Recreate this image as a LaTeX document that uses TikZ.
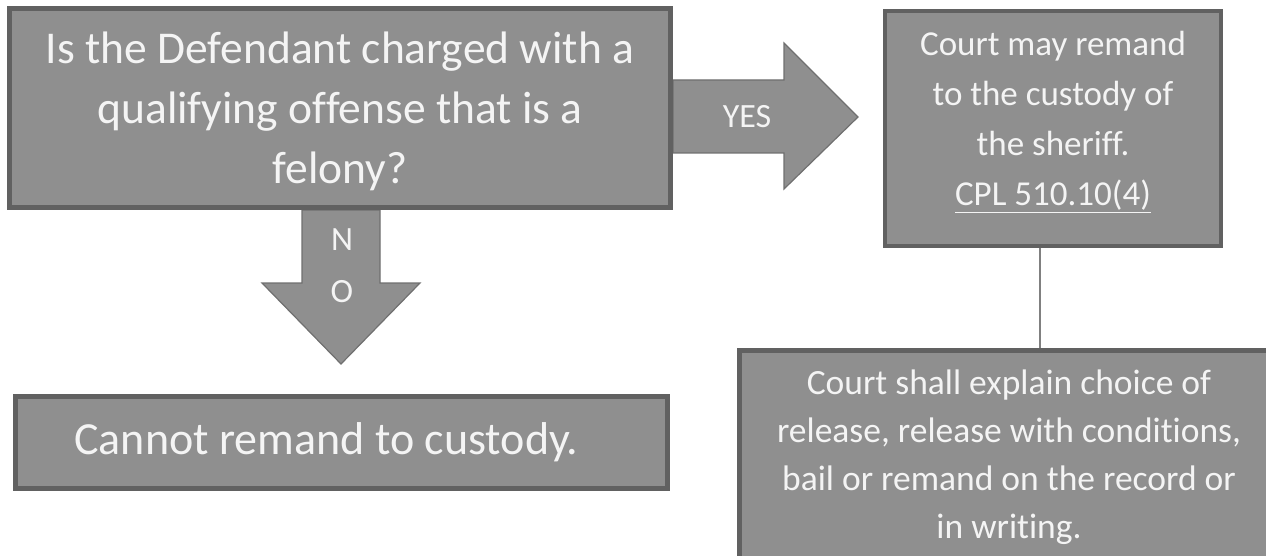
\documentclass[tikz,border=0pt]{standalone}
\usepackage{fontspec}
\setmainfont{Carlito}[Ligatures={NoCommon}]
\usetikzlibrary{calc,positioning}
\definecolor{boxfill}{HTML}{8F8F8F}
\definecolor{boxline}{HTML}{616161}
\definecolor{arrline}{HTML}{707070}
\definecolor{txt}{HTML}{F4F4F4}

\begin{document}
\begin{tikzpicture}[
  x=1pt, y=-1pt,
  box/.style={rectangle, draw=boxline, line width=5pt, fill=boxfill,
              text=txt, align=center, inner sep=0pt},
  blk/.style={draw=arrline, line width=1.2pt, fill=boxfill},
  lbl/.style={text=txt, align=center, inner sep=0pt,
              font=\fontsize{34}{52}\selectfont},
  link/.style={draw=gray, line width=1.5pt}
]
\useasboundingbox (0,0) rectangle (1266,556);
% block arrows
\draw[blk] (673,80) -- (784,80) -- (784,43) -- (858,117)
  -- (784,189) -- (784,153) -- (673,153) -- cycle;
\draw[blk] (302,210) -- (302,283) -- (262,283) -- (341,364)
  -- (420,283) -- (380,283) -- (380,210) -- cycle;
% boxes
\node[box, minimum width=661pt, minimum height=199pt, text depth=0pt,
      font=\fontsize{45.5}{60}\selectfont] (q) at (340,108)
  {Is the Defendant charged with a\\qualifying offense that is a\\felony?};
\node[box, line width=4pt, minimum width=336pt, minimum height=235pt,
      text depth=20pt, font=\fontsize{35}{50}\selectfont] (court) at (1053,128.5)
  {Court may remand\\ to the custody of\\the sheriff.\\\underline{CPL 510.10(4)}};
\node[box, minimum width=652pt, minimum height=92pt,
      font=\fontsize{46}{54}\selectfont] (nope) at (341.5,442.5)
  {Cannot remand to custody.\hspace{30pt}};
\node[box, minimum width=539pt, minimum height=213pt,
      font=\fontsize{35.5}{48}\selectfont] (expl) at (1009,457)
  {Court shall explain choice of\\release, release with conditions,\\bail or remand on the record or\\in writing.};
% labels
\node[lbl] (yes) at (747,117) {YES};
\node[lbl] (no) at (342,266) {N\\O};
% connector
\coordinate (cs) at ([xshift=-13pt]court.south);
\draw[link] (cs) -- (cs |- expl.north);
\end{tikzpicture}
\end{document}
